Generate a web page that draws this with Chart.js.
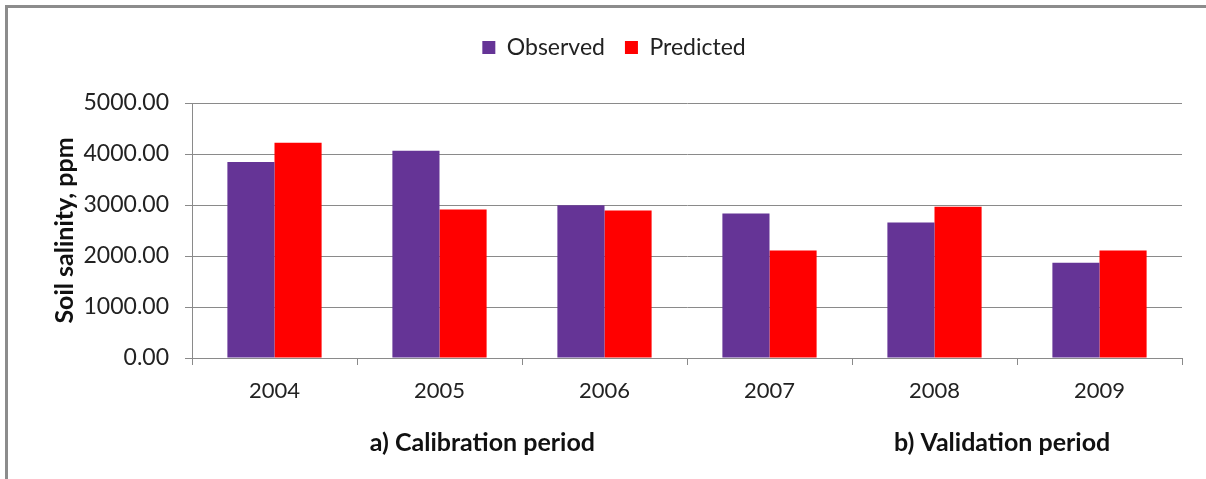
<!DOCTYPE html>
<html>
<head>
<meta charset="utf-8">
<script src="https://cdn.jsdelivr.net/npm/chart.js@4.4.0/dist/chart.umd.min.js"></script>
<style>
  html, body { margin: 0; padding: 0; background: #fff; }
  #wrap { position: relative; width: 1206px; height: 479px; }
  #frame { position: absolute; left: 5px; top: 5px; width: 1201px; height: 474px;
           border-top: 3px solid #8c8c8c; border-left: 3px solid #8c8c8c; box-sizing: border-box; }
  canvas { position: absolute; left: 0; top: 0; }
</style>
</head>
<body>
<div id="wrap">
  <div id="frame"></div>
  <canvas id="bar-chart" width="1206" height="479"></canvas>
</div>
<script>
var years = ['2004', '2005', '2006', '2007', '2008', '2009'];
var observed = [3845, 4066, 2995, 2833, 2657, 1868];
var predicted = [4223, 2911, 2891, 2108, 2964, 2108];
var yTicks = [0, 1000, 2000, 3000, 4000, 5000];
var periodLabels = ['a) Calibration period', 'b) Validation period'];

var fontName = 'Lato, "Open Sans", sans-serif';
var gridGray = '#8a8a8a';

// extra room under the legend
var legendGap = {
    id: 'legendGap',
    beforeInit: function(chart) {
        var fit = chart.legend.fit;
        chart.legend.fit = function() {
            fit.bind(chart.legend)();
            this.height += 34;
        };
    }
};

// the two period captions under the year labels
var periodText = {
    id: 'periodText',
    afterDraw: function(chart) {
        var c = chart.ctx;
        var x = chart.scales.x;
        c.save();
        c.font = 'bold 25px ' + fontName;
        c.fillStyle = '#111';
        c.textAlign = 'center';
        c.textBaseline = 'middle';
        c.fillText(periodLabels[0], x.getPixelForValue(1.26), 443);
        c.fillText(periodLabels[1], x.getPixelForValue(4.41), 443);
        c.restore();
    }
};

var ctx = document.getElementById('bar-chart').getContext('2d');

var myChart = new Chart(ctx, {
    type: 'bar',
    data: {
        labels: years,
        datasets: [{
            label: 'Observed',
            data: observed,
            backgroundColor: '#653496',
            borderWidth: 0
        }, {
            label: 'Predicted',
            data: predicted,
            backgroundColor: '#ff0000',
            borderWidth: 0
        }]
    },
    options: {
        responsive: false,
        animation: false,
        layout: { padding: { top: 16, left: 46, right: 24, bottom: 62 } },
        datasets: { bar: { categoryPercentage: 0.571, barPercentage: 1.0 } },
        plugins: {
            legend: {
                position: 'top',
                labels: {
                    boxWidth: 13, boxHeight: 13,
                    padding: 20,
                    color: '#222',
                    font: { family: fontName, size: 23 }
                }
            },
            tooltip: { enabled: false }
        },
        scales: {
            x: {
                grid: { offset: true, drawOnChartArea: false, color: gridGray, tickLength: 7 },
                border: { color: gridGray },
                ticks: { color: '#222', padding: 13, font: { family: fontName, size: 22 } },
                afterFit: function(s) { s.height = 59; }
            },
            y: {
                min: 0, max: 5000,
                afterBuildTicks: function(s) { s.ticks = yTicks.map(function(v) { return { value: v }; }); },
                grid: { color: gridGray, tickLength: 7 },
                border: { color: gridGray },
                ticks: {
                    color: '#222', padding: 16,
                    font: { family: fontName, size: 23 },
                    callback: function(v) { return Number(v).toFixed(2); }
                },
                title: {
                    display: true, text: 'Soil salinity, ppm', color: '#111',
                    font: { family: fontName, size: 25, weight: 'bold' }
                },
                afterFit: function(s) { s.width = 146; }
            }
        }
    },
    plugins: [legendGap, periodText]
});
</script>
</body>
</html>
